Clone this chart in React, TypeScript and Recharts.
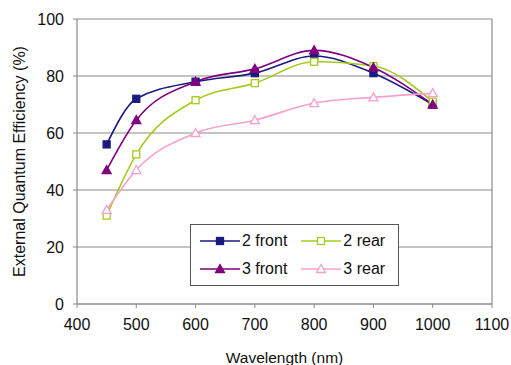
import React from "react";
import {
  CartesianGrid,
  Line,
  LineChart,
  ReferenceLine,
  XAxis,
  YAxis,
} from "recharts";

// Measured EQE, front vs rear illumination.
const wavelengths = [450, 500, 600, 700, 800, 900, 1000];
const front2 = [56, 72, 78, 81, 87, 81, 70];
const rear2 = [31, 52.5, 71.5, 77.5, 85, 83.5, 71];
const front3 = [47, 64.5, 78, 82.5, 89, 83, 70];
const rear3 = [33, 47, 60, 64.5, 70.5, 72.5, 74];

const xTicks = [400, 500, 600, 700, 800, 900, 1000, 1100];
const yTicks = [0, 20, 40, 60, 80, 100];

const series = [
  { key: "f2", name: "2 front", values: front2, color: "#1a1a80", shape: "square", filled: true },
  { key: "r2", name: "2 rear", values: rear2, color: "#a4cc1c", shape: "square", filled: false },
  { key: "f3", name: "3 front", values: front3, color: "#800080", shape: "triangle", filled: true },
  { key: "r3", name: "3 rear", values: rear3, color: "#f7a0cc", shape: "triangle", filled: false },
];

const data = wavelengths.map((w, i) => {
  const row: Record<string, number> = { w };
  series.forEach((s) => (row[s.key] = s.values[i]));
  return row;
});

const font = "'Liberation Sans', Arial, sans-serif";
const grid = "#8a8a8a";

function Marker({ cx, cy, shape, color, filled }: any) {
  const fill = filled ? color : "#fff";
  if (shape === "square") {
    return <rect x={cx - 3.5} y={cy - 3.5} width={7} height={7} fill={fill} stroke={color} strokeWidth={1.3} />;
  }
  return (
    <polygon
      points={`${cx},${cy - 4.5} ${cx + 4.5},${cy + 3.5} ${cx - 4.5},${cy + 3.5}`}
      fill={fill}
      stroke={color}
      strokeWidth={1.3}
    />
  );
}

function LegendBox() {
  return (
    <div
      style={{
        position: "absolute",
        left: 190,
        top: 224,
        border: "1px solid #555",
        background: "#fff",
        display: "grid",
        gridTemplateColumns: "auto auto",
        columnGap: 14,
        rowGap: 4,
        padding: "4px 13px 4px 9px",
        fontFamily: font,
        fontSize: 16,
        color: "#111",
      }}
    >
      {series.map((s) => (
        <div key={s.key} style={{ display: "flex", alignItems: "center", height: 24 }}>
          <svg width={42} height={14}>
            <line x1={0} y1={7} x2={40} y2={7} stroke={s.color} strokeWidth={1.5} />
            <Marker cx={20} cy={7} shape={s.shape} color={s.color} filled={s.filled} />
          </svg>
          <span>{s.name}</span>
        </div>
      ))}
    </div>
  );
}

export default function App() {
  return (
    <div style={{ position: "absolute", left: 0, top: 0, width: 511, height: 365, background: "#fff" }}>
      <LineChart width={511} height={365} data={data} margin={{ top: 19, right: 19, bottom: 0, left: 0 }}>
        <CartesianGrid vertical={false} stroke={grid} strokeWidth={1.2} />
        <ReferenceLine x={1100} stroke={grid} strokeWidth={1.2} />
        <XAxis
          dataKey="w"
          type="number"
          domain={[400, 1100]}
          ticks={xTicks}
          height={61}
          tickSize={4}
          tickMargin={11}
          axisLine={{ stroke: grid, strokeWidth: 1.2 }}
          tickLine={{ stroke: grid }}
          tick={{ fill: "#111", fontSize: 16, fontFamily: font }}
          label={{
            value: "Wavelength (nm)",
            position: "insideBottom",
            offset: 2,
            style: { fill: "#111", fontSize: 15.5, fontFamily: font },
          }}
        />
        <YAxis
          type="number"
          domain={[0, 100]}
          ticks={yTicks}
          width={77}
          tickSize={4}
          tickMargin={9}
          axisLine={{ stroke: grid, strokeWidth: 1.2 }}
          tickLine={{ stroke: grid }}
          tick={{ fill: "#111", fontSize: 16, fontFamily: font }}
          label={{
            value: "External Quantum Efficiency (%)",
            angle: -90,
            position: "insideLeft",
            offset: 19,
            style: { textAnchor: "middle", fill: "#111", fontSize: 16, fontFamily: font },
          }}
        />
        {series.map((s) => (
          <Line
            key={s.key}
            dataKey={s.key}
            name={s.name}
            type="monotone"
            stroke={s.color}
            strokeWidth={1.6}
            isAnimationActive={false}
            dot={(p: any) => (
              <Marker key={`${s.key}-${p.index}`} cx={p.cx} cy={p.cy} shape={s.shape} color={s.color} filled={s.filled} />
            )}
            activeDot={false}
          />
        ))}
      </LineChart>
      <LegendBox />
    </div>
  );
}
